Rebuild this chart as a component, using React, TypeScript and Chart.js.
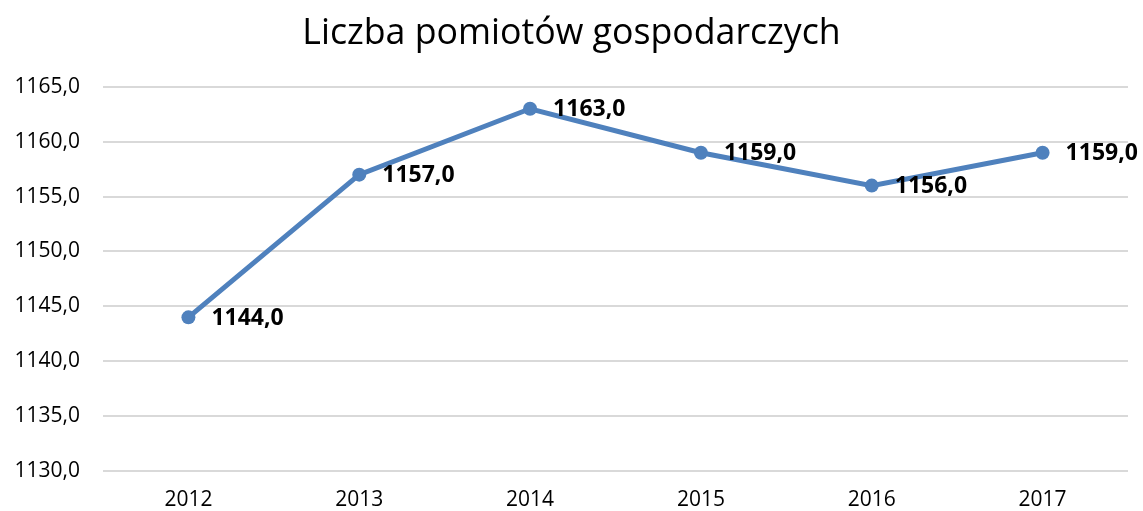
import React, { useEffect, useRef } from "react";
import { Chart, registerables } from "chart.js";

Chart.register(...registerables);

const categories = ["2012", "2013", "2014", "2015", "2016", "2017"];
const values = [1144, 1157, 1163, 1159, 1156, 1159];
const titleText = "Liczba pomiotów gospodarczych";
const yMin = 1130;
const yMax = 1165;
const yStep = 5;

const fmt = (v: number) => v.toFixed(1).replace(".", ",");

const FONT = "'Open Sans', 'DejaVu Sans', sans-serif";

const labelPlugin = {
  id: "valueLabels",
  afterDatasetsDraw(chart: any) {
    const ctx = chart.ctx;
    const meta = chart.getDatasetMeta(0);
    ctx.save();
    ctx.font = `bold 23px ${FONT}`;
    ctx.fillStyle = "#000000";
    ctx.textAlign = "left";
    ctx.textBaseline = "middle";
    meta.data.forEach((pt: any, i: number) => {
      ctx.fillText(fmt(values[i]), pt.x + 23, pt.y + 1);
    });
    ctx.restore();
  },
};

export default function App() {
  const ref = useRef<HTMLCanvasElement | null>(null);
  useEffect(() => {
    document.body.style.margin = "0";
    const canvas = ref.current!;
    const chart = new Chart(canvas, {
      type: "line",
      data: {
        labels: categories,
        datasets: [
          {
            data: values,
            borderColor: "#4f81bd",
            backgroundColor: "#4f81bd",
            borderWidth: 5,
            pointRadius: 7,
            pointHoverRadius: 7,
            pointBorderWidth: 0,
            pointBackgroundColor: "#4f81bd",
            tension: 0,
          },
        ],
      },
      options: {
        responsive: false,
        animation: false,
        layout: { padding: { left: 0, right: 0, top: 0, bottom: 0 } },
        plugins: {
          legend: { display: false },
          tooltip: { enabled: false },
          title: {
            display: true,
            text: titleText,
            color: "#000000",
            font: { family: FONT, size: 35.7, weight: "normal" },
            padding: { top: 12, bottom: 32 },
          },
        },
        scales: {
          x: {
            offset: true,
            grid: { display: false, drawTicks: false },
            border: { display: false },
            ticks: {
              color: "#000000",
              font: { family: FONT, size: 21 },
              padding: 16,
              maxRotation: 0,
            },
            afterFit: (s: any) => {
              s.height = 40;
            },
          },
          y: {
            min: yMin,
            max: yMax,
            grid: { color: "#d9d9d9", lineWidth: 2, drawTicks: false },
            border: { display: false },
            ticks: {
              stepSize: yStep,
              color: "#000000",
              font: { family: FONT, size: 21 },
              padding: 23,
              callback: (v: any) => fmt(Number(v)),
            },
            afterFit: (s: any) => {
              s.width = 103;
            },
          },
          yRight: {
            position: "right",
            min: yMin,
            max: yMax,
            grid: { display: false, drawTicks: false },
            border: { display: false },
            ticks: { display: false },
            afterFit: (s: any) => {
              s.width = 15;
            },
          },
        },
      },
      plugins: [labelPlugin],
    });
    return () => chart.destroy();
  }, []);
  return (
    <div style={{ width: 1143, height: 511, background: "#ffffff" }}>
      <canvas ref={ref} width={1143} height={511} />
    </div>
  );
}
